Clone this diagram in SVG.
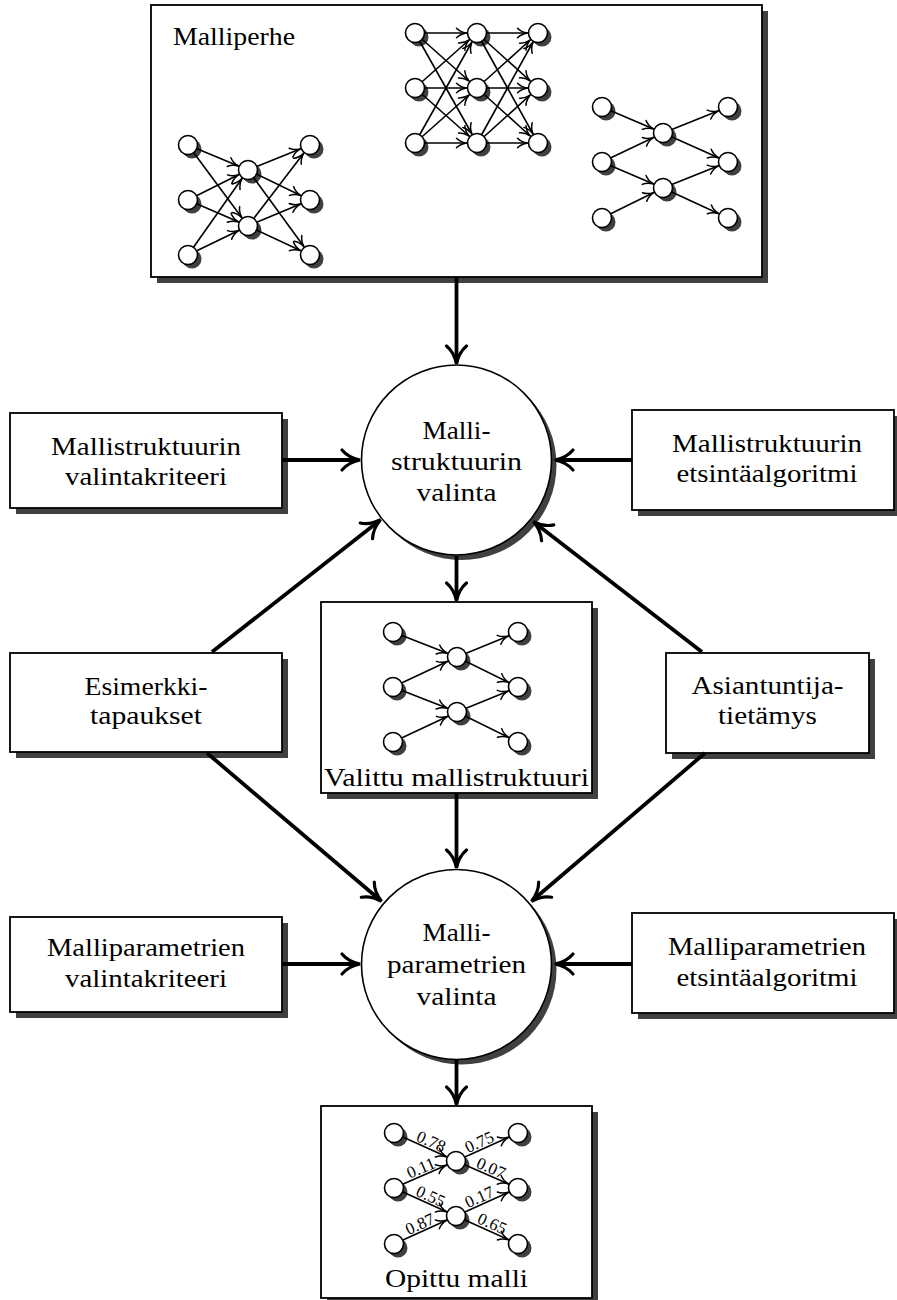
<svg xmlns="http://www.w3.org/2000/svg" width="897" height="1300" viewBox="0 0 897 1300">
<style>
.box{fill:#fff;stroke:#000;stroke-width:1.8}
.sh{fill:#404040}
.t{font-family:"Liberation Serif","Times New Roman",serif;font-size:25px;text-anchor:middle;fill:#000}
.n{fill:#fff;stroke:#000;stroke-width:1.6}
.e{stroke:#000;stroke-width:1.6;fill:none;marker-end:url(#sa)}
.c{stroke:#000;stroke-width:3.8;fill:none;marker-end:url(#ah)}
.w{font-family:"Liberation Serif","Times New Roman",serif;font-size:17px;text-anchor:middle;fill:#000}
</style>
<defs>
<marker id="ah" markerUnits="userSpaceOnUse" refX="-2" refY="0" markerWidth="30" markerHeight="30" orient="auto" overflow="visible">
<path d="M-18,-10 C-13,-4 -5,-1 0,0 C-5,1 -13,4 -18,10" fill="none" stroke="#000" stroke-width="3.2" stroke-linecap="round"/>
</marker>
<marker id="sa" markerUnits="userSpaceOnUse" refX="10.5" refY="0" markerWidth="20" markerHeight="20" orient="auto" overflow="visible">
<path d="M-10,-4.8 C-7.5,-2.2 -3,-0.5 0,0 C-3,0.5 -7.5,2.2 -10,4.8" fill="none" stroke="#000" stroke-width="1.5" stroke-linecap="round"/>
</marker>
</defs>
<rect width="897" height="1300" fill="#fff"/>

<g id="malliperhe">
<rect class="sh" x="157" y="11" width="611" height="272"/>
<rect class="box" x="151" y="5" width="611" height="272"/>
<text class="t" x="173" y="45" style="text-anchor:start" textLength="122" lengthAdjust="spacingAndGlyphs">Malliperhe</text>
<g id="netA">
<g class="sh"><circle cx="192" cy="149" r="9.5"/><circle cx="192" cy="204" r="9.5"/><circle cx="192" cy="259" r="9.5"/><circle cx="252" cy="174" r="9.5"/><circle cx="252" cy="230" r="9.5"/><circle cx="314" cy="149" r="9.5"/><circle cx="314" cy="204" r="9.5"/><circle cx="314" cy="259" r="9.5"/></g>
<path class="e" d="M188,145L248,170"/><path class="e" d="M188,145L248,226"/>
<path class="e" d="M188,200L248,170"/><path class="e" d="M188,200L248,226"/>
<path class="e" d="M188,255L248,170"/><path class="e" d="M188,255L248,226"/>
<path class="e" d="M248,170L310,145"/><path class="e" d="M248,170L310,200"/><path class="e" d="M248,170L310,255"/>
<path class="e" d="M248,226L310,145"/><path class="e" d="M248,226L310,200"/><path class="e" d="M248,226L310,255"/>
<g class="n"><circle cx="188" cy="145" r="9.5"/><circle cx="188" cy="200" r="9.5"/><circle cx="188" cy="255" r="9.5"/><circle cx="248" cy="170" r="9.5"/><circle cx="248" cy="226" r="9.5"/><circle cx="310" cy="145" r="9.5"/><circle cx="310" cy="200" r="9.5"/><circle cx="310" cy="255" r="9.5"/></g>
</g>
<g id="netB">
<g class="sh"><circle cx="419" cy="37" r="9.5"/><circle cx="419" cy="92" r="9.5"/><circle cx="419" cy="147" r="9.5"/><circle cx="481" cy="37" r="9.5"/><circle cx="481" cy="92" r="9.5"/><circle cx="481" cy="147" r="9.5"/><circle cx="542" cy="37" r="9.5"/><circle cx="542" cy="92" r="9.5"/><circle cx="542" cy="147" r="9.5"/></g>
<path class="e" d="M415,33L477,33"/><path class="e" d="M415,33L477,88"/><path class="e" d="M415,33L477,143"/>
<path class="e" d="M415,88L477,33"/><path class="e" d="M415,88L477,88"/><path class="e" d="M415,88L477,143"/>
<path class="e" d="M415,143L477,33"/><path class="e" d="M415,143L477,88"/><path class="e" d="M415,143L477,143"/>
<path class="e" d="M477,33L538,33"/><path class="e" d="M477,33L538,88"/><path class="e" d="M477,33L538,143"/>
<path class="e" d="M477,88L538,33"/><path class="e" d="M477,88L538,88"/><path class="e" d="M477,88L538,143"/>
<path class="e" d="M477,143L538,33"/><path class="e" d="M477,143L538,88"/><path class="e" d="M477,143L538,143"/>
<g class="n"><circle cx="415" cy="33" r="9.5"/><circle cx="415" cy="88" r="9.5"/><circle cx="415" cy="143" r="9.5"/><circle cx="477" cy="33" r="9.5"/><circle cx="477" cy="88" r="9.5"/><circle cx="477" cy="143" r="9.5"/><circle cx="538" cy="33" r="9.5"/><circle cx="538" cy="88" r="9.5"/><circle cx="538" cy="143" r="9.5"/></g>
</g>
<g id="netC">
<g class="sh"><circle cx="606" cy="111" r="9.5"/><circle cx="606" cy="166" r="9.5"/><circle cx="606" cy="222" r="9.5"/><circle cx="667" cy="137" r="9.5"/><circle cx="667" cy="192" r="9.5"/><circle cx="732" cy="111" r="9.5"/><circle cx="732" cy="166" r="9.5"/><circle cx="732" cy="222" r="9.5"/></g>
<path class="e" d="M602,107L663,133"/><path class="e" d="M602,162L663,133"/><path class="e" d="M602,162L663,188"/><path class="e" d="M602,218L663,188"/>
<path class="e" d="M663,133L728,107"/><path class="e" d="M663,133L728,162"/><path class="e" d="M663,188L728,162"/><path class="e" d="M663,188L728,218"/>
<g class="n"><circle cx="602" cy="107" r="9.5"/><circle cx="602" cy="162" r="9.5"/><circle cx="602" cy="218" r="9.5"/><circle cx="663" cy="133" r="9.5"/><circle cx="663" cy="188" r="9.5"/><circle cx="728" cy="107" r="9.5"/><circle cx="728" cy="162" r="9.5"/><circle cx="728" cy="218" r="9.5"/></g>
</g>
</g>

<g id="mallistruktuurin-valintakriteeri">
<rect class="sh" x="16" y="419" width="272" height="95"/>
<rect class="box" x="10" y="413" width="272" height="95"/>
<text class="t" x="146" y="455" textLength="190" lengthAdjust="spacingAndGlyphs">Mallistruktuurin</text>
<text class="t" x="146" y="485" textLength="162" lengthAdjust="spacingAndGlyphs">valintakriteeri</text>
</g>

<g id="mallistruktuurin-etsintaalgoritmi">
<rect class="sh" x="638" y="416" width="262" height="100"/>
<rect class="box" x="632" y="410" width="262" height="100"/>
<text class="t" x="767" y="452" textLength="190" lengthAdjust="spacingAndGlyphs">Mallistruktuurin</text>
<text class="t" x="767" y="482" textLength="181" lengthAdjust="spacingAndGlyphs">etsintäalgoritmi</text>
</g>

<g id="mallistruktuurin-valinta">
<circle class="sh" cx="461.5" cy="465" r="95"/>
<circle class="n" cx="456.5" cy="460" r="95"/>
<text class="t" x="456.5" y="439" textLength="68" lengthAdjust="spacingAndGlyphs">Malli-</text>
<text class="t" x="456.5" y="470" textLength="131" lengthAdjust="spacingAndGlyphs">struktuurin</text>
<text class="t" x="456.5" y="501" textLength="80" lengthAdjust="spacingAndGlyphs">valinta</text>
</g>

<g id="esimerkkitapaukset">
<rect class="sh" x="16" y="659" width="272" height="99"/>
<rect class="box" x="10" y="653" width="272" height="99"/>
<text class="t" x="146" y="695" textLength="123" lengthAdjust="spacingAndGlyphs">Esimerkki-</text>
<text class="t" x="146" y="724" textLength="112" lengthAdjust="spacingAndGlyphs">tapaukset</text>
</g>

<g id="asiantuntijatietamys">
<rect class="sh" x="672" y="659" width="203" height="100"/>
<rect class="box" x="666" y="653" width="203" height="100"/>
<text class="t" x="767.5" y="694" textLength="152" lengthAdjust="spacingAndGlyphs">Asiantuntija-</text>
<text class="t" x="767.5" y="724" textLength="99" lengthAdjust="spacingAndGlyphs">tietämys</text>
</g>

<g id="valittu-mallistruktuuri">
<rect class="sh" x="327" y="608" width="271" height="191"/>
<rect class="box" x="321" y="602" width="271" height="191"/>
<g class="sh"><circle cx="397" cy="636" r="9.5"/><circle cx="397" cy="691" r="9.5"/><circle cx="397" cy="746" r="9.5"/><circle cx="461" cy="661" r="9.5"/><circle cx="461" cy="716" r="9.5"/><circle cx="522" cy="636" r="9.5"/><circle cx="522" cy="691" r="9.5"/><circle cx="522" cy="746" r="9.5"/></g>
<path class="e" d="M393,632L457,657"/><path class="e" d="M393,687L457,657"/><path class="e" d="M393,687L457,712"/><path class="e" d="M393,742L457,712"/>
<path class="e" d="M457,657L518,632"/><path class="e" d="M457,657L518,687"/><path class="e" d="M457,712L518,687"/><path class="e" d="M457,712L518,742"/>
<g class="n"><circle cx="393" cy="632" r="9.5"/><circle cx="393" cy="687" r="9.5"/><circle cx="393" cy="742" r="9.5"/><circle cx="457" cy="657" r="9.5"/><circle cx="457" cy="712" r="9.5"/><circle cx="518" cy="632" r="9.5"/><circle cx="518" cy="687" r="9.5"/><circle cx="518" cy="742" r="9.5"/></g>
<text class="t" x="456.5" y="786" textLength="265" lengthAdjust="spacingAndGlyphs">Valittu mallistruktuuri</text>
</g>

<g id="malliparametrien-valintakriteeri">
<rect class="sh" x="16" y="923" width="272" height="95"/>
<rect class="box" x="10" y="917" width="272" height="95"/>
<text class="t" x="146" y="956" textLength="198" lengthAdjust="spacingAndGlyphs">Malliparametrien</text>
<text class="t" x="146" y="987" textLength="162" lengthAdjust="spacingAndGlyphs">valintakriteeri</text>
</g>

<g id="malliparametrien-etsintaalgoritmi">
<rect class="sh" x="638" y="919" width="262" height="100"/>
<rect class="box" x="632" y="913" width="262" height="100"/>
<text class="t" x="767" y="955" textLength="198" lengthAdjust="spacingAndGlyphs">Malliparametrien</text>
<text class="t" x="767" y="986" textLength="181" lengthAdjust="spacingAndGlyphs">etsintäalgoritmi</text>
</g>

<g id="malliparametrien-valinta">
<circle class="sh" cx="461.5" cy="969.5" r="95"/>
<circle class="n" cx="456.5" cy="964.5" r="95"/>
<text class="t" x="456.5" y="941" textLength="68" lengthAdjust="spacingAndGlyphs">Malli-</text>
<text class="t" x="456.5" y="973" textLength="139" lengthAdjust="spacingAndGlyphs">parametrien</text>
<text class="t" x="456.5" y="1005" textLength="80" lengthAdjust="spacingAndGlyphs">valinta</text>
</g>

<g id="opittu-malli">
<rect class="sh" x="327" y="1112" width="271" height="192"/>
<rect class="box" x="321" y="1106" width="271" height="192"/>
<g class="sh"><circle cx="398" cy="1137" r="9.5"/><circle cx="398" cy="1192" r="9.5"/><circle cx="398" cy="1248" r="9.5"/><circle cx="460" cy="1165" r="9.5"/><circle cx="460" cy="1220" r="9.5"/><circle cx="522" cy="1137" r="9.5"/><circle cx="522" cy="1192" r="9.5"/><circle cx="522" cy="1248" r="9.5"/></g>
<path class="e" d="M394,1133L456,1161"/><path class="e" d="M394,1188L456,1161"/><path class="e" d="M394,1188L456,1216"/><path class="e" d="M394,1244L456,1216"/>
<path class="e" d="M456,1161L518,1133"/><path class="e" d="M456,1161L518,1188"/><path class="e" d="M456,1216L518,1188"/><path class="e" d="M456,1216L518,1244"/>
<g class="n"><circle cx="394" cy="1133" r="9.5"/><circle cx="394" cy="1188" r="9.5"/><circle cx="394" cy="1244" r="9.5"/><circle cx="456" cy="1161" r="9.5"/><circle cx="456" cy="1216" r="9.5"/><circle cx="518" cy="1133" r="9.5"/><circle cx="518" cy="1188" r="9.5"/><circle cx="518" cy="1244" r="9.5"/></g>
<text class="w" transform="translate(428,1148.4) rotate(24.3)" y="-2">0.78</text>
<text class="w" transform="translate(424,1174.9) rotate(-23.5)" y="-2">0.11</text>
<text class="w" transform="translate(427.5,1203.3) rotate(24.3)" y="-2">0.55</text>
<text class="w" transform="translate(423,1230.9) rotate(-24.3)" y="-2">0.87</text>
<text class="w" transform="translate(482.5,1149) rotate(-24.3)" y="-2">0.75</text>
<text class="w" transform="translate(488,1175) rotate(23.5)" y="-2">0.07</text>
<text class="w" transform="translate(482.5,1204) rotate(-24.3)" y="-2">0.17</text>
<text class="w" transform="translate(489,1230.5) rotate(24.3)" y="-2">0.65</text>
<text class="t" x="456.5" y="1287" textLength="143" lengthAdjust="spacingAndGlyphs">Opittu malli</text>
</g>

<g id="connectors">
<path class="c" d="M456.5,277L456.5,362"/>
<path class="c" d="M282,460L358,460"/>
<path class="c" d="M632,460L557,460"/>
<path class="c" d="M212,652L379,521"/>
<path class="c" d="M702,652L535,523"/>
<path class="c" d="M456.5,556L456.5,599"/>
<path class="c" d="M456.5,793L456.5,866"/>
<path class="c" d="M207,753L380,900"/>
<path class="c" d="M705,753L533,900"/>
<path class="c" d="M282,964L358,964"/>
<path class="c" d="M632,964L557,964"/>
<path class="c" d="M456.5,1060L456.5,1103"/>
</g>
</svg>
